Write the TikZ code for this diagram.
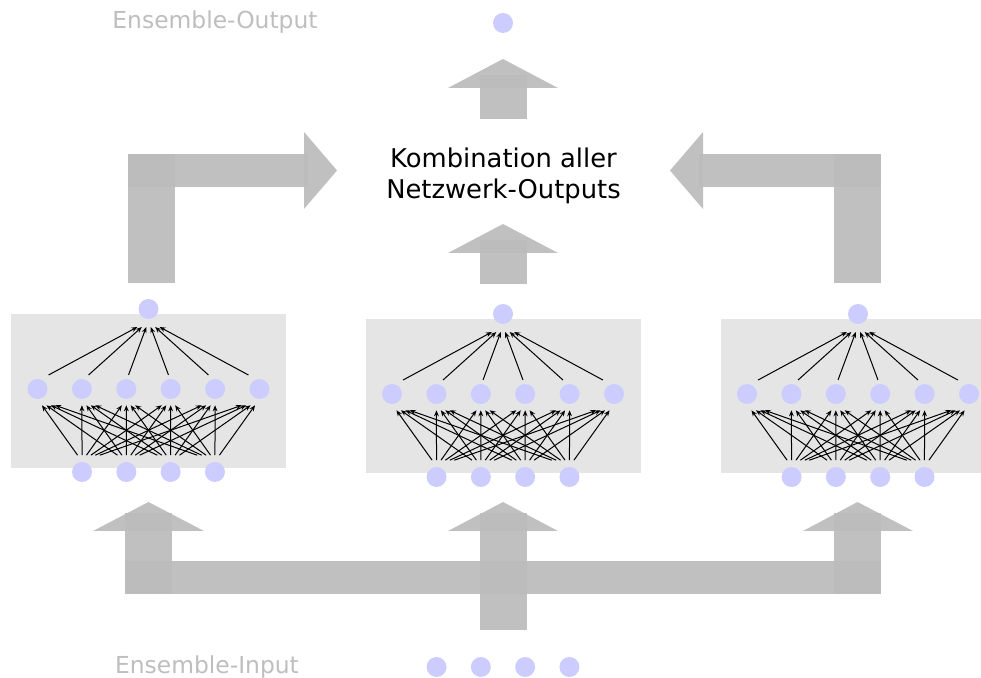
\documentclass[tikz,border=0pt]{standalone}
\usepackage{fontspec}
\setmainfont{DejaVu Sans}
\usetikzlibrary{arrows.meta,calc}
\definecolor{neuron}{RGB}{204,204,255}
\definecolor{netgray}{RGB}{229,229,229}
\definecolor{flowgray}{RGB}{187,187,187}
\definecolor{labelgray}{RGB}{190,190,190}

\begin{document}
\begin{tikzpicture}[
  x=0.5pt, y=-0.5pt,
  >={Stealth[length=3pt,width=2.4pt]},
  unit/.style={circle, fill=neuron, draw=none, minimum size=10pt, inner sep=0pt},
  netbox/.style={fill=netgray, draw=none, minimum width=137.5pt, minimum height=77pt, inner sep=0pt},
  link/.style={->, draw=black, line width=0.5pt},
  flow/.style={fill=flowgray, fill opacity=0.92, draw=none},
  glabel/.style={text=labelgray, font=\fontsize{11.7}{14}\selectfont},
  combine/.style={align=center, font=\fontsize{12.9}{15.5}\selectfont}
]

% Canvas
\path[use as bounding box, clip] (0,0) rectangle (981,678);

% Input distribution
\fill[flow] (125,561) rectangle (881,594);
\fill[flow] (125,594) rectangle (172,513);
\fill[flow] (93,531) -- (148.5,502) -- (204,531) -- cycle;
\fill[flow] (480,630) rectangle (527,513);
\fill[flow] (448,531) -- (503,502) -- (558,531) -- cycle;
\fill[flow] (834,594) rectangle (881,513);
\fill[flow] (803,531) -- (857.5,502) -- (913,531) -- cycle;

% Outputs into the combination step
\fill[flow] (128,283) rectangle (175,154);
\fill[flow] (128,154) rectangle (308,187);
\fill[flow] (304,132) -- (337,170.5) -- (304,209) -- cycle;
\fill[flow] (834,283) rectangle (881,154);
\fill[flow] (881,154) rectangle (699,187);
\fill[flow] (703,132) -- (670,170.5) -- (703,209) -- cycle;
\fill[flow] (480,284) rectangle (527,240);
\fill[flow] (448,253) -- (503,224) -- (558,253) -- cycle;

% Combined output
\fill[flow] (480,119) rectangle (527,75);
\fill[flow] (448,88) -- (503,59) -- (558,88) -- cycle;

% Member networks
\foreach \k/\cx/\cy in {1/148.5/309,2/503/314,3/858/314}{
  \node[netbox] (box\k) at (\cx,\cy+82) {};
  \node[unit] (n\k-o) at (\cx,\cy) {};
  \foreach \j in {1,...,6}
    \node[unit] (n\k-h\j) at ({\cx+(\j-3.5)*44.4},\cy+80) {};
  \foreach \i in {1,...,4}
    \node[unit] (n\k-i\i) at ({\cx+(\i-2.5)*44.3},\cy+163) {};
  % weights
  \foreach \i in {1,...,4}
    \foreach \j in {1,...,6}
      \draw[link] ($(n\k-i\i.center)!0.1!(n\k-h\j.center)+(0,-8.5)$) -- ($(n\k-h\j.center)!0.1!(n\k-i\i.center)+(0,8)$);
  \foreach \j in {1,...,6}
    \draw[link] ($(n\k-h\j.center)!0.1!(n\k-o.center)+(0,-6)$) -- ($(n\k-o.center)!0.1!(n\k-h\j.center)+(0,10)$);
}

% Ensemble in/out
\node[unit] (eout) at (503,23) {};
\foreach \i in {1,...,4}
  \node[unit] (ein\i) at ({503+(\i-2.5)*44.3},667) {};
\node[glabel] (outlabel) at (215,22) {Ensemble-Output};
\node[glabel] (inlabel) at (207,667) {Ensemble-Input};
\node[combine] (combo) at (503.5,176) {Kombination aller\\Netzwerk-Outputs};

\end{tikzpicture}
\end{document}
